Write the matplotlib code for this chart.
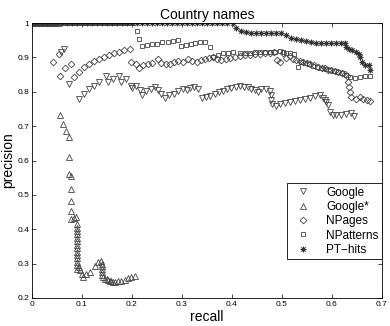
import matplotlib
matplotlib.use("Agg")
import matplotlib.pyplot as plt

# ---- data ------------------------------------------------------------------
google_r = [0.058, 0.064, 0.075, 0.095, 0.105, 0.115, 0.124, 0.135, 0.148, 0.153,
            0.163, 0.174, 0.179, 0.189, 0.198, 0.201, 0.209, 0.216, 0.221, 0.229,
            0.239, 0.246, 0.253, 0.259, 0.266, 0.275, 0.284, 0.293, 0.303, 0.311,
            0.316, 0.324, 0.333, 0.341, 0.349, 0.357, 0.366, 0.375, 0.383, 0.391,
            0.399, 0.408, 0.416, 0.424, 0.433, 0.439, 0.446, 0.453, 0.459, 0.469,
            0.477, 0.479, 0.479, 0.481, 0.488, 0.496, 0.506, 0.516, 0.526, 0.536,
            0.546, 0.556, 0.566, 0.576, 0.583, 0.586, 0.589, 0.593, 0.596, 0.603,
            0.609, 0.619, 0.629, 0.639, 0.644]
google_p = [0.915, 0.924, 0.822, 0.780, 0.793, 0.807, 0.816, 0.828, 0.845, 0.829,
            0.838, 0.845, 0.828, 0.836, 0.818, 0.810, 0.816, 0.805, 0.792, 0.803,
            0.807, 0.813, 0.805, 0.795, 0.783, 0.790, 0.795, 0.803, 0.808, 0.805,
            0.810, 0.813, 0.807, 0.783, 0.785, 0.788, 0.793, 0.799, 0.803, 0.807,
            0.810, 0.813, 0.816, 0.814, 0.813, 0.809, 0.805, 0.801, 0.807, 0.807,
            0.803, 0.790, 0.776, 0.764, 0.760, 0.764, 0.767, 0.770, 0.773, 0.777,
            0.780, 0.783, 0.787, 0.790, 0.783, 0.776, 0.771, 0.761, 0.742, 0.732,
            0.732, 0.732, 0.735, 0.739, 0.729]

gstar_r = [0.000, 0.008, 0.016, 0.024, 0.032, 0.040, 0.047, 0.053,
           0.057, 0.063, 0.068, 0.074, 0.074, 0.075, 0.079, 0.078, 0.078,
           0.078, 0.078, 0.085, 0.088, 0.091, 0.091, 0.091, 0.091, 0.091,
           0.091, 0.091, 0.091, 0.091, 0.091, 0.091, 0.091, 0.091, 0.091,
           0.095, 0.097, 0.100, 0.102, 0.108, 0.116, 0.126, 0.133, 0.138,
           0.141, 0.141, 0.141, 0.141, 0.141, 0.143, 0.146, 0.150, 0.153,
           0.156, 0.159, 0.163, 0.166, 0.173, 0.179, 0.186, 0.193, 0.199, 0.206]
gstar_p = [1.000, 1.000, 1.000, 1.000, 1.000, 1.000, 1.000, 1.000,
           0.734, 0.706, 0.685, 0.669, 0.610, 0.560, 0.555, 0.516, 0.482,
           0.453, 0.429, 0.432, 0.435, 0.416, 0.405, 0.395, 0.385, 0.375,
           0.365, 0.355, 0.345, 0.335, 0.325, 0.315, 0.305, 0.295, 0.285,
           0.290, 0.280, 0.270, 0.262, 0.270, 0.277, 0.292, 0.304, 0.307,
           0.300, 0.292, 0.284, 0.276, 0.268, 0.262, 0.256, 0.255, 0.253,
           0.250, 0.249, 0.247, 0.246, 0.249, 0.250, 0.253, 0.259, 0.262, 0.264]

npages_r = [0.000, 0.007, 0.014, 0.021, 0.028, 0.035, 0.042,
            0.043, 0.055, 0.057, 0.067, 0.078, 0.084, 0.094, 0.104, 0.115,
            0.124, 0.134, 0.144, 0.154, 0.164, 0.174, 0.184, 0.196, 0.199,
            0.208, 0.215, 0.223, 0.233, 0.241, 0.253, 0.259, 0.268, 0.276,
            0.284, 0.293, 0.303, 0.313, 0.321, 0.331, 0.338, 0.346, 0.354,
            0.363, 0.371, 0.379, 0.388, 0.396, 0.406, 0.416, 0.426, 0.436,
            0.446, 0.456, 0.466, 0.476, 0.485, 0.491, 0.496, 0.503, 0.509,
            0.516, 0.522, 0.529, 0.536, 0.543, 0.550, 0.556, 0.565, 0.573,
            0.580, 0.586, 0.593, 0.599, 0.606, 0.613, 0.620, 0.626, 0.631,
            0.633, 0.635, 0.637, 0.639, 0.648, 0.656, 0.663, 0.671, 0.676]
npages_p = [1.000, 1.000, 1.000, 1.000, 1.000, 1.000, 1.000,
            0.887, 0.910, 0.845, 0.868, 0.882, 0.842, 0.858, 0.873, 0.882,
            0.890, 0.896, 0.902, 0.908, 0.912, 0.917, 0.921, 0.925, 0.887,
            0.880, 0.870, 0.878, 0.880, 0.885, 0.895, 0.885, 0.880, 0.882,
            0.887, 0.889, 0.887, 0.897, 0.889, 0.887, 0.892, 0.895, 0.898,
            0.901, 0.896, 0.892, 0.895, 0.899, 0.902, 0.905, 0.906, 0.907,
            0.909, 0.911, 0.912, 0.912, 0.915, 0.894, 0.887, 0.912, 0.899,
            0.905, 0.896, 0.892, 0.889, 0.887, 0.884, 0.880, 0.877, 0.873,
            0.870, 0.868, 0.865, 0.863, 0.860, 0.858, 0.855, 0.853, 0.846,
            0.829, 0.814, 0.800, 0.785, 0.780, 0.785, 0.780, 0.776, 0.773]

npat_r = [0.000, 0.010, 0.020, 0.030, 0.040, 0.050, 0.060, 0.070, 0.080,
          0.090, 0.100, 0.110, 0.120, 0.130, 0.140, 0.150, 0.160, 0.170,
          0.180, 0.190, 0.200, 0.211, 0.215, 0.221, 0.231, 0.241, 0.251,
          0.261, 0.273, 0.283, 0.293, 0.299, 0.309, 0.319, 0.326, 0.336,
          0.346, 0.356, 0.363, 0.373, 0.383, 0.393, 0.403, 0.416, 0.426,
          0.436, 0.446, 0.456, 0.466, 0.476, 0.486, 0.496, 0.503, 0.509,
          0.516, 0.524, 0.533, 0.539, 0.547, 0.555, 0.563, 0.571, 0.579,
          0.588, 0.596, 0.604, 0.612, 0.620, 0.628, 0.636, 0.646, 0.656,
          0.666, 0.676]
npat_p = [1.000, 1.000, 1.000, 1.000, 1.000, 1.000, 1.000, 1.000, 1.000,
          1.000, 1.000, 1.000, 1.000, 1.000, 1.000, 1.000, 1.000, 1.000,
          1.000, 1.000, 1.000, 0.977, 0.953, 0.934, 0.936, 0.938, 0.940,
          0.944, 0.946, 0.948, 0.950, 0.934, 0.936, 0.938, 0.943, 0.945,
          0.945, 0.931, 0.902, 0.907, 0.912, 0.914, 0.916, 0.912, 0.913,
          0.914, 0.915, 0.915, 0.916, 0.916, 0.917, 0.918, 0.917, 0.914,
          0.914, 0.909, 0.873, 0.887, 0.884, 0.880, 0.876, 0.873, 0.870,
          0.867, 0.864, 0.860, 0.857, 0.854, 0.850, 0.843, 0.840, 0.843,
          0.845, 0.846]

pthits_r = [0.000, 0.010, 0.020, 0.030, 0.040, 0.050, 0.060, 0.070, 0.080,
            0.090, 0.100, 0.110, 0.120, 0.130, 0.140, 0.150, 0.160, 0.170,
            0.180, 0.190, 0.200, 0.210, 0.220, 0.230, 0.240, 0.250, 0.260,
            0.270, 0.280, 0.290, 0.300, 0.310, 0.320, 0.330, 0.340, 0.350,
            0.360, 0.370, 0.380, 0.390, 0.403, 0.409, 0.419, 0.429, 0.439,
            0.449, 0.459, 0.469, 0.479, 0.489, 0.499, 0.509, 0.519, 0.529,
            0.539, 0.549, 0.559, 0.569, 0.579, 0.589, 0.599, 0.609, 0.619,
            0.626, 0.628, 0.635, 0.641, 0.648, 0.655, 0.657, 0.661, 0.666,
            0.675, 0.676]
pthits_p = [1.000, 1.000, 1.000, 1.000, 1.000, 1.000, 1.000, 1.000, 1.000,
            1.000, 1.000, 1.000, 1.000, 1.000, 1.000, 1.000, 1.000, 1.000,
            1.000, 1.000, 1.000, 1.000, 1.000, 1.000, 1.000, 1.000, 1.000,
            1.000, 1.000, 1.000, 1.000, 1.000, 1.000, 1.000, 1.000, 1.000,
            1.000, 1.000, 1.000, 1.000, 1.000, 0.985, 0.978, 0.975, 0.970,
            0.970, 0.970, 0.970, 0.970, 0.970, 0.972, 0.965, 0.958, 0.955,
            0.950, 0.948, 0.945, 0.943, 0.943, 0.943, 0.943, 0.943, 0.943,
            0.943, 0.931, 0.926, 0.921, 0.916, 0.910, 0.900, 0.887, 0.878,
            0.878, 0.865]

x_ticks = [0, 0.1, 0.2, 0.3, 0.4, 0.5, 0.6, 0.7]
x_ticklabels = ["0", "0.1", "0.2", "0.3", "0.4", "0.5", "0.6", "0.7"]
y_ticks = [0.2, 0.3, 0.4, 0.5, 0.6, 0.7, 0.8, 0.9, 1.0]
y_ticklabels = ["0.2", "0.3", "0.4", "0.5", "0.6", "0.7", "0.8", "0.9", "1"]

# ---- plot -------------------------------------------------------------------
plt.rcParams["font.family"] = ["Liberation Sans", "DejaVu Sans"]

fig = plt.figure(figsize=(3.9, 3.26), dpi=100)
ax = fig.add_axes([0.082, 0.086, 0.897, 0.843])

edge = "#444444"
common = dict(ls="none", mfc="none", mec=edge, mew=0.6)
ax.plot(google_r, google_p, marker="v", ms=4.2, label="Google", **common)
ax.plot(gstar_r, gstar_p, marker="^", ms=4.2, label="Google*", **common)
ax.plot(npages_r, npages_p, marker="D", ms=3.4, label="NPages", **common)
ax.plot(npat_r, npat_p, marker="s", ms=3.4, label="NPatterns", **common)
ax.plot(pthits_r, pthits_p, marker=(8, 2, 0), ms=4.0, ls="none",
        color="#333333", mew=0.6, label="PT\u2212hits")

ax.set_xlim(0, 0.7)
ax.set_ylim(0.2, 1.0)
ax.set_xticks(x_ticks)
ax.set_xticklabels(x_ticklabels)
ax.set_yticks(y_ticks)
ax.set_yticklabels(y_ticklabels)
ax.tick_params(direction="in", top=True, right=True, labelsize=6, length=3,
               width=0.5, pad=2)
for s in ax.spines.values():
    s.set_linewidth(0.6)

ax.set_xlabel("recall", fontsize=10)
ax.xaxis.set_label_coords(0.5, -0.045)
ax.set_ylabel("precision", fontsize=10)
ax.yaxis.set_label_coords(-0.047, 0.5)
ax.set_title("Country names", fontsize=10, pad=3)

leg = ax.legend(loc="lower right", bbox_to_anchor=(1.0, 0.14), fontsize=8.5,
                frameon=True, fancybox=False, framealpha=1, edgecolor="black",
                handlelength=2.2, handletextpad=0.8, labelspacing=0.2,
                borderpad=0.3, borderaxespad=0.0)
leg.get_frame().set_linewidth(0.6)

fig.savefig("out.png", dpi=100)
